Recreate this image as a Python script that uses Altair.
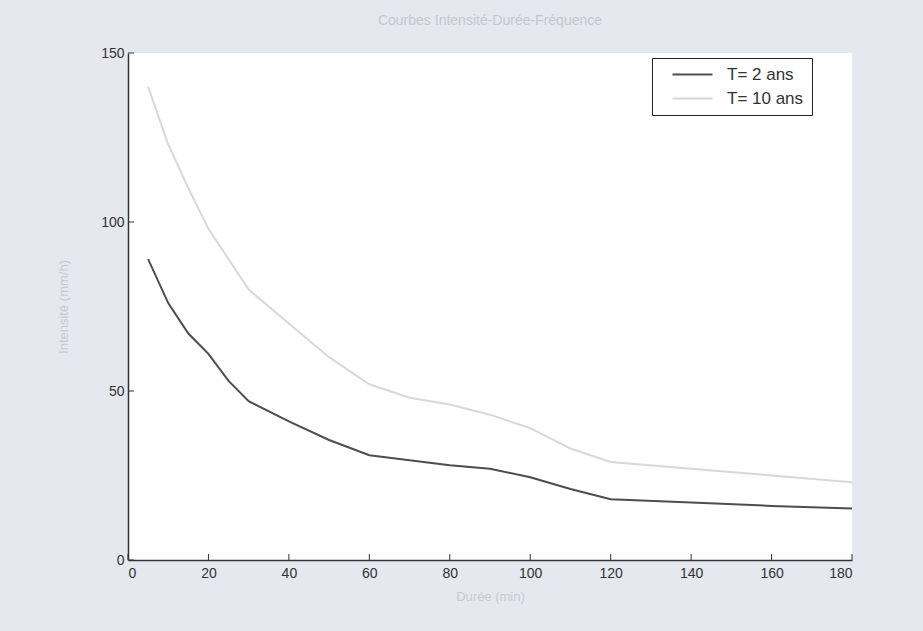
import altair as alt
import pandas as pd

duree = [5, 10, 15, 20, 25, 30, 40, 50, 60, 70, 80, 90, 100, 110, 120, 140, 160, 180]
t2 = [89, 76, 67, 61, 53, 47, 41, 35.5, 31, 29.5, 28, 27, 24.5, 21, 18, 17, 16, 15.2]
t10 = [140, 123, 110, 98, 89, 80, 70, 60, 52, 48, 46, 43, 39, 33, 29, 27, 25, 23]
series = ["T= 2 ans", "T= 10 ans"]
x_ticks = [0, 20, 40, 60, 80, 100, 120, 140, 160, 180]
y_ticks = [0, 50, 100, 150]

rows = []
for d, a, b in zip(duree, t2, t10):
    rows.append({"duree": d, "val": a, "serie": series[0]})
    rows.append({"duree": d, "val": b, "serie": series[1]})
df = pd.DataFrame(rows)

W, H = 724, 507
xs = alt.Scale(domain=[0, 180], nice=False)
ys = alt.Scale(domain=[0, 150], nice=False)

lines = alt.Chart(df).mark_line(strokeWidth=2).encode(
    x=alt.X("duree:Q", scale=xs,
            axis=alt.Axis(values=x_ticks, title="Durée (min)", ticks=False,
                          labelPadding=6, titlePadding=10)),
    y=alt.Y("val:Q", scale=ys,
            axis=alt.Axis(values=y_ticks, title="Intensité (mm/h)", ticks=False,
                          labelPadding=4, titlePadding=30)),
    color=alt.Color("serie:N", sort=series,
                    scale=alt.Scale(domain=series, range=["#4d4d4d", "#d6d8dc"]),
                    legend=alt.Legend(title=None, orient="none", legendX=524, legendY=5,
                                      direction="vertical", fillColor="white",
                                      strokeColor="#222", padding=8,
                                      symbolType="M-3,0L3,0", symbolSize=178,
                                      symbolOffset=24,
                                      symbolStrokeWidth=2, labelFontSize=17,
                                      labelColor="#333", labelFont="Liberation Sans",
                                      rowPadding=6, labelOffset=26, labelLimit=200)),
)

xt = alt.Chart(pd.DataFrame({"t": x_ticks})).mark_rule(color="#333").encode(
    x=alt.X("t:Q", scale=xs), y=alt.value(H), y2=alt.value(H - 6))
yt = alt.Chart(pd.DataFrame({"t": y_ticks})).mark_rule(color="#333").encode(
    y=alt.Y("t:Q", scale=ys), x=alt.value(0), x2=alt.value(6))

chart = alt.layer(lines, xt, yt).properties(
    width=W, height=H,
    title=alt.TitleParams("Courbes Intensité-Durée-Fréquence", fontSize=14,
                          color="#c3c7cf", fontWeight="normal", offset=18,
                          font="Liberation Sans"),
    autosize=alt.AutoSizeParams(type="none"),
    padding={"left": 128, "top": 53, "right": 71, "bottom": 71},
    background="#e6e8ef",
).configure_view(fill="white", stroke=None).configure_axis(
    domainColor="#333", domainWidth=1.5, grid=False,
    labelFont="Liberation Sans", labelFontSize=14, labelColor="#333",
    titleFont="Liberation Sans", titleFontSize=13, titleColor="#c6cad2",
    titleFontWeight="normal",
)

chart.save("out.html", embed_options={"renderer": "svg", "actions": False})
